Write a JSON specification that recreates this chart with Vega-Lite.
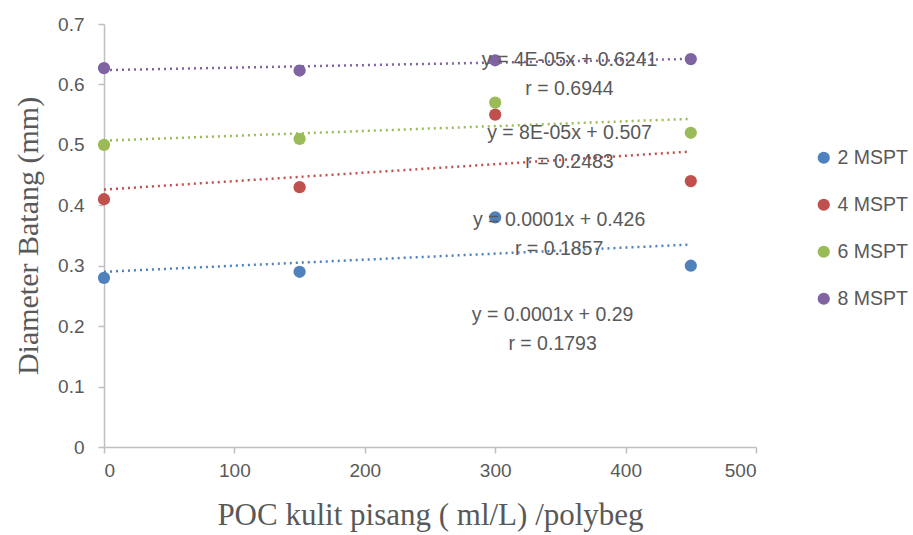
{
  "$schema": "https://vega.github.io/schema/vega-lite/v6.json",
  "autosize": {"type": "none"},
  "width": 652,
  "height": 423,
  "padding": {"left": 104, "top": 24, "right": 157, "bottom": 88},
  "background": "white",
  "config": {
    "view": {"stroke": null},
    "axis": {
      "grid": false,
      "domainColor": "#BFBFBF",
      "domainWidth": 1.5,
      "tickColor": "#BFBFBF",
      "tickWidth": 1.5,
      "tickSize": 6,
      "labelColor": "#595959",
      "labelFont": "Liberation Sans",
      "labelFontSize": 19,
      "titleColor": "#595959",
      "titleFont": "Liberation Serif",
      "titleFontSize": 30,
      "titleFontWeight": "normal"
    }
  },
  "data": {
    "values": [
      {"x": 0, "y": 0.28, "series": "2 MSPT"},
      {"x": 150, "y": 0.29, "series": "2 MSPT"},
      {"x": 300, "y": 0.38, "series": "2 MSPT"},
      {"x": 450, "y": 0.30, "series": "2 MSPT"},
      {"x": 0, "y": 0.41, "series": "4 MSPT"},
      {"x": 150, "y": 0.43, "series": "4 MSPT"},
      {"x": 300, "y": 0.55, "series": "4 MSPT"},
      {"x": 450, "y": 0.44, "series": "4 MSPT"},
      {"x": 0, "y": 0.50, "series": "6 MSPT"},
      {"x": 150, "y": 0.51, "series": "6 MSPT"},
      {"x": 300, "y": 0.57, "series": "6 MSPT"},
      {"x": 450, "y": 0.52, "series": "6 MSPT"},
      {"x": 0, "y": 0.627, "series": "8 MSPT"},
      {"x": 150, "y": 0.623, "series": "8 MSPT"},
      {"x": 300, "y": 0.64, "series": "8 MSPT"},
      {"x": 450, "y": 0.642, "series": "8 MSPT"}
    ]
  },
  "layer": [
    {
      "transform": [{"regression": "y", "on": "x", "groupby": ["series"], "extent": [0, 450]}],
      "mark": {"type": "line", "strokeDash": [2, 4], "strokeWidth": 2.5},
      "encoding": {
        "x": {"field": "x", "type": "quantitative"},
        "y": {"field": "y", "type": "quantitative"},
        "stroke": {
          "field": "series", "type": "nominal", "legend": null,
          "scale": {"range": ["#4F81BD", "#C0504D", "#9BBB59", "#8064A2"]}
        }
      }
    },
    {
      "mark": {"type": "point", "filled": true, "size": 150, "opacity": 1},
      "encoding": {
        "x": {
          "field": "x", "type": "quantitative",
          "scale": {"domain": [0, 500], "nice": false},
          "axis": {"values": [0, 100, 200, 300, 400, 500], "title": "POC kulit pisang ( ml/L) /polybeg", "titleFontSize": 31, "labelPadding": 8, "titlePadding": 20}
        },
        "y": {
          "field": "y", "type": "quantitative",
          "scale": {"domain": [0, 0.7], "nice": false, "zero": true},
          "axis": {"values": [0, 0.1, 0.2, 0.3, 0.4, 0.5, 0.6, 0.7], "labelExpr": "datum.value == 0 ? '0' : format(datum.value, '.1f')", "title": "Diameter Batang (mm)", "labelPadding": 14, "titlePadding": 14}
        },
        "color": {
          "field": "series", "type": "nominal",
          "scale": {"domain": ["2 MSPT", "4 MSPT", "6 MSPT", "8 MSPT"], "range": ["#4F81BD", "#C0504D", "#9BBB59", "#8064A2"]},
          "legend": {
            "title": null,
            "orient": "none",
            "legendX": 710,
            "legendY": 124,
            "symbolType": "circle",
            "symbolSize": 150,
            "labelFont": "Liberation Sans",
            "labelFontSize": 19.5,
            "labelColor": "#595959",
            "rowPadding": 26,
            "labelOffset": 4
          }
        }
      }
    },
    {
      "data": {"values": [{}]},
      "mark": {"type": "text", "font": "Liberation Sans", "fontSize": 19.5, "color": "#595959", "lineHeight": 29, "baseline": "middle"},
      "encoding": {"x": {"datum": 357}, "y": {"datum": 0.640}, "text": {"value": ["y = 4E-05x + 0.6241", "r = 0.6944"]}}
    },
    {
      "data": {"values": [{}]},
      "mark": {"type": "text", "font": "Liberation Sans", "fontSize": 19.5, "color": "#595959", "lineHeight": 29, "baseline": "middle"},
      "encoding": {"x": {"datum": 357}, "y": {"datum": 0.520}, "text": {"value": ["y = 8E-05x + 0.507", "r = 0.2483"]}}
    },
    {
      "data": {"values": [{}]},
      "mark": {"type": "text", "font": "Liberation Sans", "fontSize": 19.5, "color": "#595959", "lineHeight": 29, "baseline": "middle"},
      "encoding": {"x": {"datum": 349}, "y": {"datum": 0.376}, "text": {"value": ["y = 0.0001x + 0.426", "r = 0.1857"]}}
    },
    {
      "data": {"values": [{}]},
      "mark": {"type": "text", "font": "Liberation Sans", "fontSize": 19.5, "color": "#595959", "lineHeight": 29, "baseline": "middle"},
      "encoding": {"x": {"datum": 344}, "y": {"datum": 0.218}, "text": {"value": ["y = 0.0001x + 0.29", "r = 0.1793"]}}
    }
  ]
}
